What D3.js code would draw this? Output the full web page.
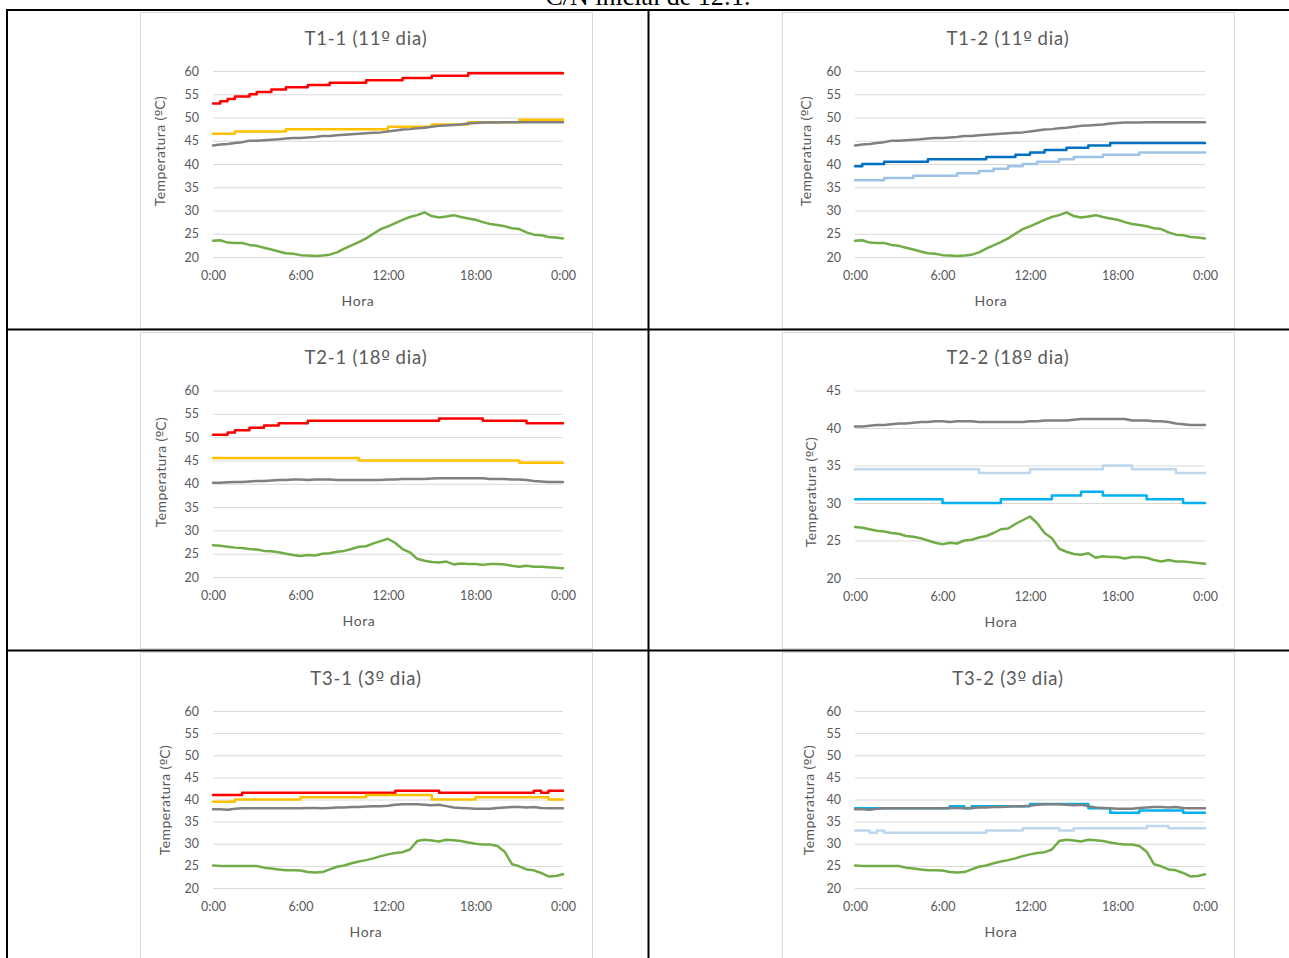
<!DOCTYPE html>
<html><head><meta charset="utf-8">
<script src="https://cdn.jsdelivr.net/npm/d3@7"></script>
<style>
html,body{margin:0;padding:0;background:#fff;overflow:hidden}
svg{display:block}
</style></head><body>
<svg id="c" width="1289" height="958"></svg>
<script>
// ---------- DATA ----------
const caption = "C/N inicial de 12:1.";
const hours = d3.range(0, 24.001, 0.5);           // sample times (h), 49 points
const xTickHours = [0, 6, 12, 18, 24];
const xTickLabels = ["0:00", "6:00", "12:00", "18:00", "0:00"];
const yTicks60 = [20, 25, 30, 35, 40, 45, 50, 55, 60];
const yTicks45 = [20, 25, 30, 35, 40, 45];
const titles = ["T1-1 (11º dia)", "T1-2 (11º dia)", "T2-1 (18º dia)", "T2-2 (18º dia)", "T3-1 (3º dia)", "T3-2 (3º dia)"];
const xTitle = "Hora";
const yTitle = "Temperatura (ºC)";

// ambient (green) – shared by both piles of each test
const ambT1 = [23.5,23.6,23.1,23.0,23.0,22.6,22.4,22.0,21.6,21.2,20.8,20.7,20.4,20.3,20.2,20.3,20.5,21.0,21.8,22.5,23.2,24.0,25.0,26.0,26.6,27.3,28.0,28.6,29.0,29.6,28.8,28.5,28.7,29.0,28.6,28.3,28.0,27.5,27.1,26.9,26.6,26.2,26.0,25.3,24.8,24.7,24.3,24.2,24.0];
const ambT2 = [26.8,26.7,26.5,26.3,26.2,26.0,25.9,25.6,25.5,25.3,25.0,24.7,24.5,24.7,24.6,25.0,25.1,25.4,25.6,26.0,26.5,26.6,27.2,27.7,28.2,27.3,26.0,25.3,23.9,23.5,23.2,23.1,23.3,22.7,22.9,22.8,22.8,22.6,22.8,22.8,22.7,22.4,22.2,22.4,22.2,22.2,22.1,22.0,21.9];
const ambT3 = [25.1,25.0,25.0,25.0,25.0,25.0,24.95,24.6,24.4,24.2,24.0,24.0,23.95,23.6,23.5,23.6,24.2,24.8,25.1,25.6,26.0,26.3,26.7,27.2,27.6,27.9,28.1,28.7,30.6,30.9,30.75,30.5,30.9,30.8,30.6,30.3,30.0,29.85,29.85,29.5,28.2,25.4,24.9,24.2,24.0,23.4,22.6,22.7,23.1];

// gray – shared by both piles of each test
const grayT1 = [44,44.2,44.3,44.5,44.7,45,45,45.1,45.2,45.3,45.5,45.6,45.6,45.7,45.8,46,46,46.2,46.3,46.4,46.5,46.6,46.7,46.8,47,47.2,47.4,47.5,47.7,47.8,48,48.2,48.3,48.4,48.5,48.7,48.8,48.9,48.9,48.9,49,49,49,49,49,49,49,49,49];
const grayT2 = [40.2,40.2,40.3,40.4,40.4,40.5,40.6,40.6,40.7,40.8,40.8,40.9,40.9,40.8,40.9,40.9,40.9,40.8,40.8,40.8,40.8,40.8,40.8,40.8,40.9,40.9,41.0,41.0,41.0,41.0,41.1,41.2,41.2,41.2,41.2,41.2,41.2,41.2,41.0,41.0,41.0,40.9,40.9,40.8,40.6,40.5,40.4,40.4,40.4];
const grayT3 = [37.8,37.8,37.7,37.9,38,38,38,38,38,38,38,38,38,38.1,38.1,38,38.1,38.2,38.2,38.3,38.3,38.4,38.5,38.5,38.6,38.8,38.9,38.9,38.9,38.8,38.7,38.8,38.5,38.2,38.1,38.0,37.9,37.9,37.9,38.1,38.2,38.3,38.3,38.2,38.3,38.1,38,38,38];

// T1-1
const t11Red = [53,53.5,54,54.5,54.5,55,55.5,55.5,56,56,56.5,56.5,56.5,57,57,57,57.5,57.5,57.5,57.5,57.5,58,58,58,58,58,58.5,58.5,58.5,58.5,59,59,59,59,59,59.5,59.5,59.5,59.5,59.5,59.5,59.5,59.5,59.5,59.5,59.5,59.5,59.5,59.5];
const t11Orange = [46.5,46.5,46.5,47,47,47,47,47,47,47,47.5,47.5,47.5,47.5,47.5,47.5,47.5,47.5,47.5,47.5,47.5,47.5,47.5,47.5,48,48,48,48,48,48,48.5,48.5,48.5,48.5,48.5,49,49,49,49,49,49,49,49.5,49.5,49.5,49.5,49.5,49.5,49.5];
// T1-2
const t12Blue = [39.5,40,40,40,40.5,40.5,40.5,40.5,40.5,40.5,41,41,41,41,41,41,41,41,41.5,41.5,41.5,41.5,42,42,42.5,42.5,43,43,43,43.5,43.5,43.5,44,44,44,44.5,44.5,44.5,44.5,44.5,44.5,44.5,44.5,44.5,44.5,44.5,44.5,44.5,44.5];
const t12Light = [36.5,36.5,36.5,36.5,37,37,37,37,37.5,37.5,37.5,37.5,37.5,37.5,38,38,38,38.5,38.5,39,39,39.5,39.5,40,40,40.5,40.5,40.5,41,41,41.5,41.5,41.5,41.5,42,42,42,42,42,42.5,42.5,42.5,42.5,42.5,42.5,42.5,42.5,42.5,42.5];
// T2-1
const t21Red = [50.5,50.5,51,51.5,51.5,52,52,52.5,52.5,53,53,53,53,53.5,53.5,53.5,53.5,53.5,53.5,53.5,53.5,53.5,53.5,53.5,53.5,53.5,53.5,53.5,53.5,53.5,53.5,54,54,54,54,54,54,53.5,53.5,53.5,53.5,53.5,53.5,53,53,53,53,53,53];
const t21Orange = [45.5,45.5,45.5,45.5,45.5,45.5,45.5,45.5,45.5,45.5,45.5,45.5,45.5,45.5,45.5,45.5,45.5,45.5,45.5,45.5,45,45,45,45,45,45,45,45,45,45,45,45,45,45,45,45,45,45,45,45,45,45,44.5,44.5,44.5,44.5,44.5,44.5,44.5];
// T2-2
const t22Light = [34.5,34.5,34.5,34.5,34.5,34.5,34.5,34.5,34.5,34.5,34.5,34.5,34.5,34.5,34.5,34.5,34.5,34,34,34,34,34,34,34,34.5,34.5,34.5,34.5,34.5,34.5,34.5,34.5,34.5,34.5,35,35,35,35,34.5,34.5,34.5,34.5,34.5,34.5,34,34,34,34,34];
const t22Cyan = [30.5,30.5,30.5,30.5,30.5,30.5,30.5,30.5,30.5,30.5,30.5,30.5,30,30,30,30,30,30,30,30,30.5,30.5,30.5,30.5,30.5,30.5,30.5,31,31,31,31,31.5,31.5,31.5,31,31,31,31,31,31,30.5,30.5,30.5,30.5,30.5,30,30,30,30];
// T3-1
const t31Red = [41,41,41,41,41.5,41.5,41.5,41.5,41.5,41.5,41.5,41.5,41.5,41.5,41.5,41.5,41.5,41.5,41.5,41.5,41.5,41.5,41.5,41.5,41.5,42,42,42,42,42,42,41.5,41.5,41.5,41.5,41.5,41.5,41.5,41.5,41.5,41.5,41.5,41.5,41.5,42,41.5,42,42,42];
const t31Orange = [39.5,39.5,39.5,40,40,40,40,40,40,40,40,40,40.5,40.5,40.5,40.5,40.5,40.5,40.5,40.5,40.5,41,41,41,41,41,41,41,41,41,40,40,40,40,40,40,40.5,40.5,40.5,40.5,40.5,40.5,40.5,40.5,40.5,40.5,40,40,40];
// T3-2
const t32Cyan = [38,38,38,38,38,38,38,38,38,38,38,38,38,38.5,38.5,38,38.5,38.5,38.5,38.5,38.5,38.5,38.5,38.5,39,39,39,39,39,39,39,39,38,38,38,37,37,37,37,37.5,37.5,37.5,37.5,37.5,37.5,37,37,37,37];
const t32Light = [33,33,32.5,33,32.5,32.5,32.5,32.5,32.5,32.5,32.5,32.5,32.5,32.5,32.5,32.5,32.5,32.5,33,33,33,33,33,33.5,33.5,33.5,33.5,33.5,33,33,33.5,33.5,33.5,33.5,33.5,33.5,33.5,33.5,33.5,33.5,34,34,34,33.5,33.5,33.5,33.5,33.5,33.5];

// ---------- STYLE / LAYOUT ----------
const C = {red:"#FF0000", orange:"#FFC000", gray:"#808080", green:"#70AD47",
           blue:"#0070C0", light1:"#9DC3E6", light2:"#BDD7EE", cyan:"#00B0F0"};
const FONT = "Lato, 'Open Sans', sans-serif";
const ORD_FONT = "'DejaVu Sans', sans-serif";
const TXT = "#595959";

const charts = [
  {title:titles[0], frame:[140,12,452,316], px:[213,563], py:[71,257], yDom:[20,60], yTicks:yTicks60,
   titleX:366, horaX:358, yTX:160, yTY:151,
   series:[{v:t11Red,c:C.red,step:true},{v:t11Orange,c:C.orange,step:true},{v:grayT1,c:C.gray},{v:ambT1,c:C.green}]},
  {title:titles[1], frame:[782,12,452,316], px:[855,1205], py:[71,257], yDom:[20,60], yTicks:yTicks60,
   titleX:1008, horaX:991, yTX:806, yTY:151,
   series:[{v:grayT1,c:C.gray},{v:t12Blue,c:C.blue,step:true},{v:t12Light,c:C.light1,step:true},{v:ambT1,c:C.green}]},
  {title:titles[2], frame:[140,332,452,316], px:[213,563], py:[390.5,577], yDom:[20,60], yTicks:yTicks60,
   titleX:366, horaX:359, yTX:161, yTY:472,
   series:[{v:t21Red,c:C.red,step:true},{v:t21Orange,c:C.orange,step:true},{v:grayT2,c:C.gray},{v:ambT2,c:C.green}]},
  {title:titles[3], frame:[782,332,452,316], px:[855,1205], py:[390.5,578], yDom:[20,45], yTicks:yTicks45,
   titleX:1008, horaX:1001, yTX:811, yTY:492,
   series:[{v:grayT2,c:C.gray},{v:t22Light,c:C.light2,step:true},{v:t22Cyan,c:C.cyan,step:true},{v:ambT2,c:C.green}]},
  {title:titles[4], frame:[140,652,452,330], px:[213,563], py:[711,888], yDom:[20,60], yTicks:yTicks60,
   titleX:366, horaX:366, yTX:165, yTY:800,
   series:[{v:t31Red,c:C.red,step:true},{v:t31Orange,c:C.orange,step:true},{v:grayT3,c:C.gray},{v:ambT3,c:C.green}]},
  {title:titles[5], frame:[782,652,452,330], px:[855,1205], py:[711,888], yDom:[20,60], yTicks:yTicks60,
   titleX:1008, horaX:1001, yTX:809, yTY:800,
   series:[{v:t32Cyan,c:C.cyan,step:true},{v:t32Light,c:C.light2,step:true},{v:grayT3,c:C.gray},{v:ambT3,c:C.green}]}
];

// write a string, rendering the ordinal indicator "º" with a font that underlines it
function ordText(sel, str) {
  str.split(/(º)/).forEach(part => {
    if (!part) return;
    const t = sel.append("tspan").text(part);
    if (part === "º") t.attr("font-family", ORD_FONT).attr("font-size", "1em").attr("letter-spacing", 0);
  });
}

// ---------- DRAW ----------
const svg = d3.select("#c");
svg.append("rect").attr("width",1289).attr("height",958).attr("fill","#fff");

svg.append("text").attr("x",648).attr("y",5).attr("text-anchor","middle")
  .attr("font-family","'Liberation Serif','Times New Roman',serif").attr("font-size",26)
  .attr("fill","#000").text(caption);

charts.forEach(ch => {
  const g = svg.append("g");
  const [fx,fy,fw,fh] = ch.frame;
  g.append("rect").attr("x",fx+0.5).attr("y",fy+0.5).attr("width",fw).attr("height",fh)
    .attr("fill","#fff").attr("stroke","#D9D9D9").attr("stroke-width",1);

  const x = d3.scaleLinear().domain([0,24]).range(ch.px);
  const y = d3.scaleLinear().domain(ch.yDom).range([ch.py[1], ch.py[0]]);
  const w = ch.px[1]-ch.px[0];

  const ya = g.append("g").attr("transform",`translate(${ch.px[0]},0)`)
    .call(d3.axisLeft(y).tickValues(ch.yTicks).tickSize(-w).tickPadding(14).tickFormat(d3.format("d")));
  ya.select(".domain").remove();
  ya.selectAll("line").attr("stroke","#D9D9D9").attr("stroke-width",1);
  ya.attr("font-family",FONT).attr("font-size",12.5);
  ya.selectAll("text").attr("fill",TXT);

  const xa = g.append("g").attr("transform",`translate(0,${ch.py[1]})`)
    .call(d3.axisBottom(x).tickValues(xTickHours).tickSize(0).tickPadding(14.6)
      .tickFormat((d,i)=>xTickLabels[i]));
  xa.select(".domain").remove();
  xa.attr("font-family",FONT).attr("font-size",12.5);
  xa.selectAll("text").attr("fill",TXT);

  ch.series.forEach(s => {
    const line = d3.line().x((d,i)=>x(hours[i])).y(d=>y(d))
      .curve(s.step ? d3.curveStepAfter : d3.curveLinear);
    g.append("path").datum(s.v).attr("d",line).attr("fill","none")
      .attr("stroke",s.c).attr("stroke-width",2.5).attr("stroke-linejoin","round").attr("stroke-linecap","round");
  });

  g.append("text").attr("x",ch.titleX).attr("y",ch.py[0]-32.5).attr("dy","0.35em")
    .attr("text-anchor","middle").attr("font-family",FONT).attr("font-size",18.5)
    .attr("letter-spacing",0.8).attr("fill",TXT).call(ordText, ch.title);
  g.append("text").attr("x",ch.horaX).attr("y",ch.py[1]+44.5).attr("dy","0.35em")
    .attr("text-anchor","middle").attr("font-family",FONT).attr("font-size",14)
    .attr("letter-spacing",0.6).attr("fill",TXT).text(xTitle);
  g.append("text").attr("transform",`translate(${ch.yTX},${ch.yTY}) rotate(-90)`).attr("dy","0.35em")
    .attr("text-anchor","middle").attr("font-family",FONT).attr("font-size",14)
    .attr("letter-spacing",0.4).attr("fill",TXT).call(ordText, yTitle);
});

// table borders
const tb = svg.append("g").attr("stroke","#000").attr("stroke-width",2);
[[6,10,1289,10],[6,329.5,1289,329.5],[6,650.5,1289,650.5],[7,9,7,958],[648.5,9,648.5,958]]
  .forEach(([x1,y1,x2,y2]) => tb.append("line").attr("x1",x1).attr("y1",y1).attr("x2",x2).attr("y2",y2));
</script>
</body></html>
